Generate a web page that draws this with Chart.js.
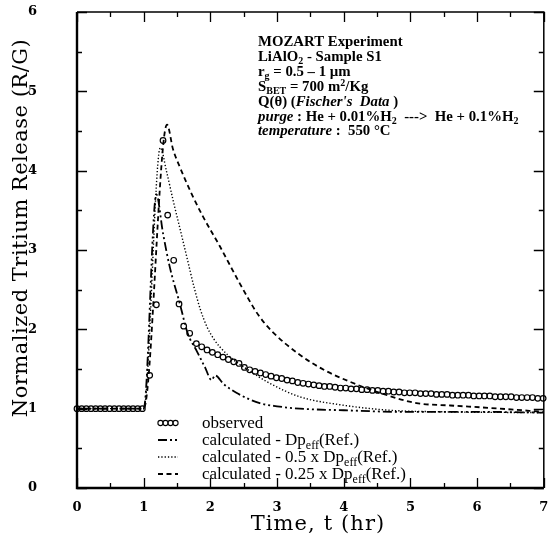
<!DOCTYPE html>
<html><head><meta charset="utf-8">
<script src="https://cdn.jsdelivr.net/npm/chart.js@4.4.0/dist/chart.umd.min.js"></script>
<style>html,body{margin:0;padding:0;background:#fff}#wrap{width:549px;height:552px}</style>
</head><body><div id="wrap"><canvas id="c" width="549" height="552"></canvas></div>
<script>
// ---- data ----
const obsT = [0,0.07,0.14,0.21,0.28,0.35,0.42,0.49,0.56,0.63,0.70,0.77,0.84,0.91,0.98,
  1.09,1.19,1.29,1.36,1.45,1.53,1.60,1.69,1.79,1.87,1.95,2.03,2.11,2.19,2.27,2.35,2.43,2.51,2.59,2.67,
  2.75,2.83,2.91,2.99,3.07,3.15,3.23,3.31,3.39,3.47,3.55,3.63,3.71,3.79,3.87,3.95,4.03,4.11,4.19,4.27,
  4.35,4.43,4.51,4.59,4.67,4.75,4.83,4.91,4.99,5.07,5.15,5.23,5.31,5.39,5.47,5.55,5.63,5.71,5.79,5.87,
  5.95,6.03,6.11,6.19,6.27,6.35,6.43,6.51,6.59,6.67,6.75,6.83,6.91,6.99];
const obsR = [1,1,1,1,1,1,1,1,1,1,1,1,1,1,1,
  1.42,2.31,4.38,3.44,2.87,2.32,2.04,1.95,1.82,1.78,1.74,1.71,1.68,1.65,1.62,1.59,1.57,1.52,1.49,1.47,
  1.45,1.43,1.41,1.39,1.38,1.36,1.35,1.33,1.32,1.31,1.30,1.29,1.28,1.28,1.27,1.26,1.26,1.25,1.25,1.24,
  1.24,1.23,1.23,1.22,1.22,1.21,1.21,1.20,1.20,1.20,1.19,1.19,1.19,1.18,1.18,1.18,1.17,1.17,1.17,1.17,
  1.16,1.16,1.16,1.16,1.15,1.15,1.15,1.15,1.14,1.14,1.14,1.14,1.13,1.13];

const refT = [0,1.0,1.19,1.29,1.39,1.54,1.66,1.80,1.92,2.02,2.07,2.20,2.39,2.74,3.00,3.34,4.00,4.84,6.00,7.00];
const refR = [1,1,3.70,3.21,2.79,2.33,1.95,1.72,1.52,1.36,1.42,1.31,1.20,1.07,1.03,1.00,0.98,0.96,0.96,0.95];

const halfT = [0,1.0,1.25,1.34,1.44,1.55,1.65,1.75,1.85,1.95,2.05,2.14,2.34,2.60,2.89,3.34,3.94,4.69,5.50,7.00];
const halfR = [1,1,4.29,4.00,3.63,3.25,2.90,2.55,2.25,2.03,1.88,1.78,1.62,1.47,1.32,1.15,1.05,0.98,0.96,0.95];

const quarT = [0,1.0,1.35,1.44,1.54,1.74,1.89,2.14,2.44,2.72,2.93,3.34,3.70,4.09,4.54,5.09,5.60,6.18,7.00];
const quarR = [1,1,4.58,4.27,4.05,3.67,3.42,3.05,2.58,2.18,1.97,1.68,1.49,1.34,1.20,1.07,1.04,1.01,0.96];

const xTickVals = [0,1,2,3,4,5,6,7];
const yTickVals = [0,1,2,3,4,5,6];
const xTitle = 'Time, t (hr)';
const yTitle = 'Normalized Tritium Release (R/G)';

const legendItems = [
  [['observed','n']],
  [['calculated - Dp','n'],['eff','sub'],['(Ref.)','n']],
  [['calculated - 0.5 x Dp','n'],['eff','sub'],['(Ref.)','n']],
  [['calculated - 0.25 x Dp','n'],['eff','sub'],['(Ref.)','n']]
];
const noteLines = [
  [['MOZART Experiment','n']],
  [['LiAlO','n'],['2','sub'],[' - Sample S1','n']],
  [['r','n'],['g','sub'],[' = 0.5 \u2013 1 \u00b5m','n']],
  [['S','n'],['BET','sub'],[' = 700 m','n'],['2','sup'],['/Kg','n']],
  [['Q(\u03b8) (','n'],["Fischer's  Data",'i'],[' )','n']],
  [['purge','i'],[' : He + 0.01%H','n'],['2','sub'],['  --->  He + 0.1%H','n'],['2','sub']],
  [['temperature','i'],[' :  550 \u00b0C','n']]
];

const toPts = (t, r) => t.map((v, i) => ({x: v, y: r[i]}));

// ---- helpers ----
const SERIF = '"Liberation Serif", "Times New Roman", serif';
const TFONT = '"DejaVu Serif", serif';
function richText(ctx, x, y, segs, size, bold) {
  let cx = x;
  const w = bold ? 'bold ' : '';
  for (const [t, s] of segs) {
    let f, dy = 0;
    if (s === 'i') f = 'italic ' + w + size + 'px ' + SERIF;
    else if (s === 'sub') { f = w + Math.round(size * 0.68) + 'px ' + SERIF; dy = size * 0.22; }
    else if (s === 'sup') { f = w + Math.round(size * 0.68) + 'px ' + SERIF; dy = -size * 0.35; }
    else f = w + size + 'px ' + SERIF;
    ctx.font = f;
    ctx.fillText(t, cx, y + dy);
    cx += ctx.measureText(t).width;
  }
}

const decorPlugin = {
  id: 'decor',
  afterDatasetsDraw(chart) {
    const {ctx, chartArea: a, scales: {x, y}} = chart;
    ctx.save();
    ctx.strokeStyle = '#000';
    ctx.fillStyle = '#000';
    // tick marks (inward)
    ctx.lineWidth = 1.3;
    ctx.beginPath();
    for (let v = 0; v <= 7.001; v += 0.5) {
      const px = Math.round(x.getPixelForValue(v)) + 0.5;
      const L = Math.abs(v - Math.round(v)) < 1e-6 ? 10 : 5;
      ctx.moveTo(px, a.bottom); ctx.lineTo(px, a.bottom - L);
      ctx.moveTo(px, a.top); ctx.lineTo(px, a.top + L);
    }
    for (let v = 0; v <= 6.001; v += 0.5) {
      const py = Math.round(y.getPixelForValue(v)) + 0.5;
      const L = Math.abs(v - Math.round(v)) < 1e-6 ? 10 : 5;
      ctx.moveTo(a.left, py); ctx.lineTo(a.left + L, py);
      ctx.moveTo(a.right, py); ctx.lineTo(a.right - L, py);
    }
    ctx.stroke();
    // frame
    ctx.lineWidth = 2.4;
    ctx.beginPath();
    ctx.moveTo(a.left, a.top); ctx.lineTo(a.left, a.bottom); ctx.lineTo(a.right, a.bottom);
    ctx.stroke();
    ctx.lineWidth = 1.5;
    ctx.beginPath();
    ctx.moveTo(a.left, a.top); ctx.lineTo(a.right, a.top); ctx.lineTo(a.right, a.bottom);
    ctx.stroke();

    // axis titles
    ctx.textAlign = 'center';
    ctx.textBaseline = 'middle';
    ctx.font = '21px ' + TFONT;
    ctx.letterSpacing = '1.1px';
    ctx.fillText(xTitle, 318, 525);
    ctx.letterSpacing = '0.5px';
    ctx.save();
    ctx.translate(22, 228);
    ctx.rotate(-Math.PI / 2);
    ctx.fillText(yTitle, 0, 0);
    ctx.restore();
    ctx.letterSpacing = '0px';

    // annotation block
    ctx.textBaseline = 'alphabetic';
    ctx.textAlign = 'left';
    noteLines.forEach((segs, i) => richText(ctx, 258, 46 + i * 14.9, segs, 14.8, true));

    // legend
    const lx0 = 158, lx1 = 178, tx = 202;
    const ly = [423, 440, 457, 474];
    ctx.lineWidth = 1.1;
    for (let k = 0; k < 4; k++) {
      ctx.beginPath(); ctx.arc(lx0 + 2.5 + k * 5, ly[0], 2.6, 0, Math.PI * 2); ctx.stroke();
    }
    const dashes = [[9, 3, 2, 3, 2, 3], [1.3, 2], [5, 3.5]];
    const widths = [1.8, 1.4, 1.8];
    for (let k = 0; k < 3; k++) {
      ctx.lineWidth = widths[k];
      ctx.setLineDash(dashes[k]);
      ctx.beginPath(); ctx.moveTo(lx0, ly[k + 1]); ctx.lineTo(lx1, ly[k + 1]); ctx.stroke();
    }
    ctx.setLineDash([]);
    legendItems.forEach((segs, i) => richText(ctx, tx, ly[i] + 5, segs, 17, false));
    ctx.restore();
  }
};

new Chart(document.getElementById('c'), {
  type: 'line',
  data: {
    datasets: [
      {label: 'observed', data: toPts(obsT, obsR), showLine: false, pointStyle: 'circle',
       pointRadius: 2.8, pointBorderWidth: 1.2, pointBorderColor: '#000',
       pointBackgroundColor: 'rgba(255,255,255,0)', borderColor: '#000', clip: false},
      {label: 'calculated - Dpeff(Ref.)', data: toPts(refT, refR), borderColor: '#000', borderWidth: 1.8,
       borderDash: [9, 3, 2, 3, 2, 3], pointRadius: 0, cubicInterpolationMode: 'monotone', fill: false},
      {label: 'calculated - 0.5 x Dpeff(Ref.)', data: toPts(halfT, halfR), borderColor: '#000', borderWidth: 1.4,
       borderDash: [1.3, 2], pointRadius: 0, cubicInterpolationMode: 'monotone', fill: false},
      {label: 'calculated - 0.25 x Dpeff(Ref.)', data: toPts(quarT, quarR), borderColor: '#000', borderWidth: 1.8,
       borderDash: [5, 3.5], pointRadius: 0, cubicInterpolationMode: 'monotone', fill: false}
    ]
  },
  options: {
    responsive: false,
    animation: false,
    devicePixelRatio: 1,
    layout: {padding: {top: 12, right: 4, left: 0, bottom: 0}},
    plugins: {legend: {display: false}, tooltip: {enabled: false}},
    scales: {
      x: {
        type: 'linear', min: 0, max: 7,
        afterBuildTicks: s => { s.ticks = xTickVals.map(v => ({value: v})); },
        ticks: {color: '#000', padding: 12, font: {family: TFONT, size: 13, weight: 'bold'}, maxRotation: 0},
        grid: {display: false, drawTicks: false},
        border: {display: false},
        title: {display: false},
        afterFit: s => { s.height = 64; s.paddingLeft = 0; s.paddingRight = 0; }
      },
      y: {
        type: 'linear', min: 0, max: 6,
        afterBuildTicks: s => { s.ticks = yTickVals.map(v => ({value: v})); },
        ticks: {color: '#000', padding: 40, font: {family: TFONT, size: 13, weight: 'bold'}},
        grid: {display: false, drawTicks: false},
        border: {display: false},
        title: {display: false},
        afterFit: s => { s.width = 77; s.paddingTop = 0; s.paddingBottom = 0; }
      }
    }
  },
  plugins: [decorPlugin]
});
</script>
</body></html>
